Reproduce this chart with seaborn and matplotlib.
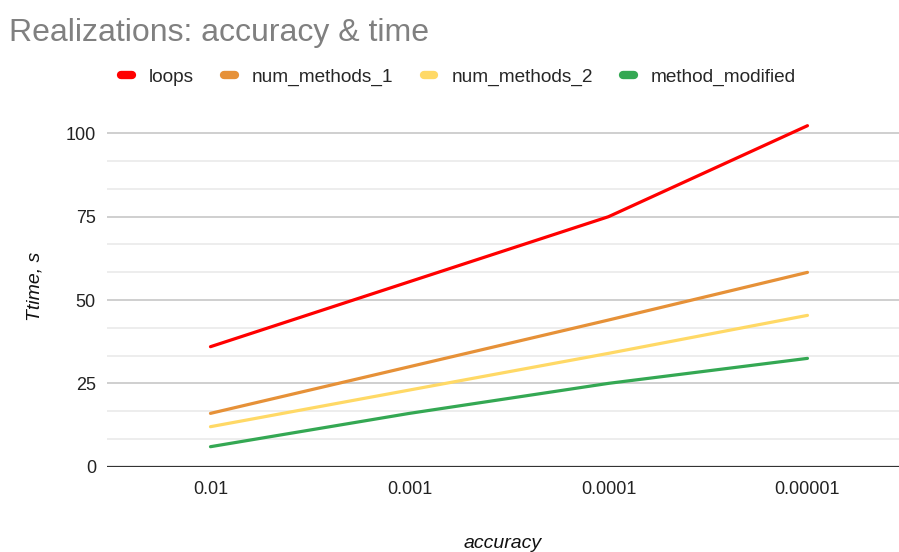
import numpy as np
import pandas as pd
import seaborn as sns
import matplotlib.pyplot as plt

# valores
accuracy = ['0.01', '0.001', '0.0001', '0.00001']
loops = [36, 55.5, 75, 102.3]
num_methods_1 = [16, 30, 44, 58.3]
num_methods_2 = [12, 23, 34, 45.4]
method_modified = [6, 16, 25, 32.5]

series = ['loops', 'num_methods_1', 'num_methods_2', 'method_modified']
colores = ['#ff0000', '#e69138', '#ffd966', '#34a853']

df = pd.DataFrame({
    'accuracy': accuracy * 4,
    'time': loops + num_methods_1 + num_methods_2 + method_modified,
    'serie': np.repeat(series, len(accuracy)),
})

sns.set_style('white')
plt.rcParams['font.family'] = ['Liberation Sans', 'DejaVu Sans']

fig = plt.figure(figsize=(8.99, 5.52), dpi=100)
ax = fig.add_axes([107 / 899, 1 - 466.7 / 552, 1 - 107 / 899, (466.7 - 106.7) / 552])

# rejilla
for v in np.arange(0, 108, 25 / 3):
    major = abs(v / 25 - round(v / 25)) < 1e-6
    if v == 0:
        continue
    ax.axhline(v, color='#cccccc' if major else '#e8e8e8', lw=1.3 if major else 1.1, zorder=0)
ax.axhline(0, color='#333333', lw=1.6, zorder=1)

sns.lineplot(data=df, x='accuracy', y='time', hue='serie', palette=colores,
             sort=False, linewidth=2.3, ax=ax, legend=False, zorder=3)

ax.set_xlim(-0.52, 3.46)
ax.set_ylim(0, 108)
ax.set_yticks([0, 25, 50, 75, 100])
ax.tick_params(axis='both', length=0, labelsize=13, colors='#222222')
ax.tick_params(axis='x', pad=10)
ax.tick_params(axis='y', pad=8)
for s in ax.spines.values():
    s.set_visible(False)

ax.set_xlabel('accuracy', fontsize=14, style='italic', color='#111111', labelpad=27)
ax.set_ylabel('Ttime, s', fontsize=14, style='italic', color='#111111', labelpad=16)

fig.text(9 / 899, 1 - 33 / 552, 'Realizations: accuracy & time', fontsize=23,
         color='#808080', va='center', ha='left')

handles = [plt.Line2D([], [], color=c, lw=6, solid_capstyle='round') for c in colores]
fig.legend(handles, series, loc='center', bbox_to_anchor=(0.51, 1 - 77 / 552), ncol=4,
           frameon=False, fontsize=13.7, handlelength=0.55, handletextpad=0.9,
           columnspacing=1.6)

fig.savefig('out.png', dpi=100)
